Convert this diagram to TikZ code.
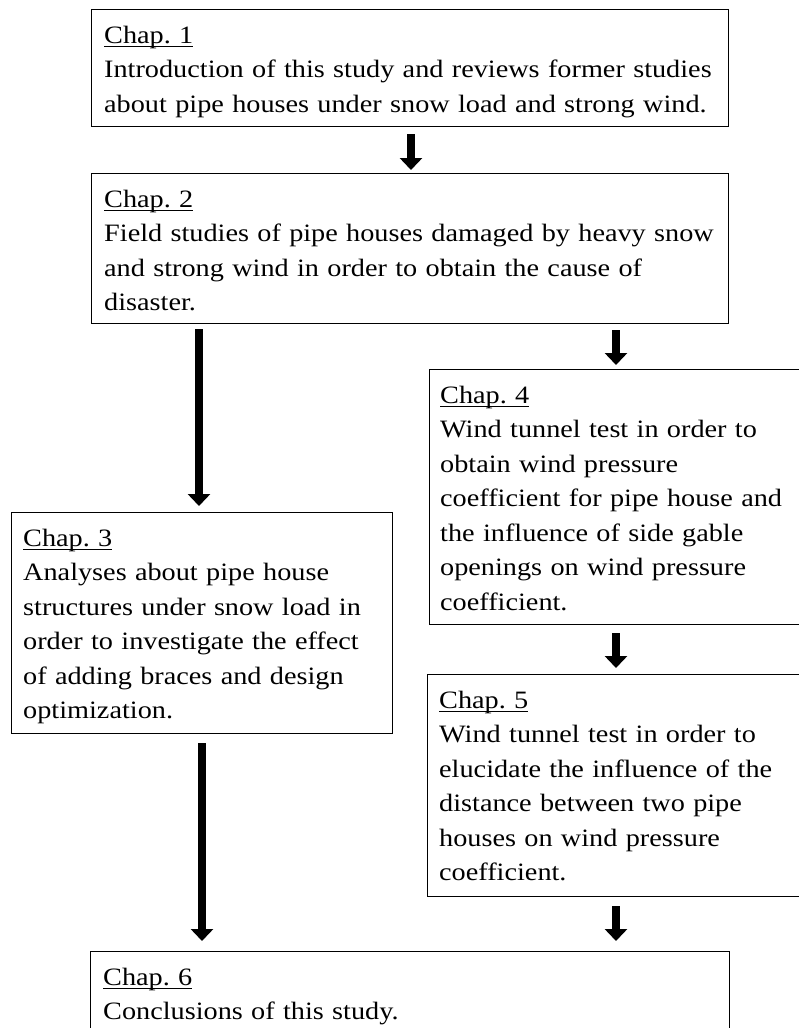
\documentclass[tikz,border=0pt]{standalone}
\usepackage{fontspec}
\setmainfont{Liberation Serif}[FakeStretch=1.13]
\usetikzlibrary{arrows.meta}
\newcommand\chapul[1]{\setbox0=\hbox{#1}\rlap{\rule[-4.4pt]{\wd0}{1.3pt}}\box0}
\begin{document}
\begin{tikzpicture}[x=1pt,y=-1pt,
  box/.style={draw=black, line width=1.2pt, rectangle, inner sep=0pt, anchor=north west},
  txt/.style={anchor=base west, inner sep=0pt, text width=700pt, align=left,
    font=\fontsize{25}{34.5}\selectfont\frenchspacing},
  bigarrow/.style={line width=8pt, -{Triangle[width=22pt,length=12pt]}}]
\useasboundingbox (0,0) rectangle (799,1028);
\clip (0,0) rectangle (799,1028);
% boxes
\node[box, minimum width=637pt, minimum height=117pt] (b1) at (91,9) {};
\node[box, minimum width=637pt, minimum height=150pt] (b2) at (91,173) {};
\node[box, minimum width=381pt, minimum height=221pt] (b3) at (11,512) {};
\node[box, minimum width=400pt, minimum height=255pt] (b4) at (429,369) {};
\node[box, minimum width=400pt, minimum height=222pt] (b5) at (427,674) {};
\node[box, minimum width=639pt, minimum height=120pt] (b6) at (90,951) {};
% texts
\node[txt] (t1) at ([xshift=13pt,yshift=-34pt]b1.north west)
  {\chapul{Chap. 1}\\Introduction of this study and reviews former studies\\about pipe houses under snow load and strong wind.};
\node[txt] (t2) at ([xshift=13pt,yshift=-34pt]b2.north west)
  {\chapul{Chap. 2}\\Field studies of pipe houses damaged by heavy snow\\and strong wind in order to obtain the cause of\\disaster.};
\node[txt] (t3) at ([xshift=12pt,yshift=-34pt]b3.north west)
  {\chapul{Chap. 3}\\Analyses about pipe house\\structures under snow load in\\order to investigate the effect\\of adding braces and design\\optimization.};
\node[txt] (t4) at ([xshift=11pt,yshift=-34pt]b4.north west)
  {\chapul{Chap. 4}\\Wind tunnel test in order to\\obtain wind pressure\\coefficient for pipe house and\\the influence of side gable\\openings on wind pressure\\coefficient.};
\node[txt] (t5) at ([xshift=12pt,yshift=-34pt]b5.north west)
  {\chapul{Chap. 5}\\Wind tunnel test in order to\\elucidate the influence of the\\distance between two pipe\\houses on wind pressure\\coefficient.};
\node[txt] (t6) at ([xshift=13pt,yshift=-34pt]b6.north west)
  {\chapul{Chap. 6}\\Conclusions of this study.};
% arrow columns
\coordinate (cA) at (411,0);
\coordinate (cL) at (199,0);
\coordinate (cL2) at (202,0);
\coordinate (cR) at (616,0);
% arrows
\draw[bigarrow, shorten <=7pt, shorten >=3pt] (b1.south -| cA) -- (b2.north -| cA);
\draw[bigarrow, shorten <=5pt, shorten >=6pt] (b2.south -| cL) -- (b3.north -| cL);
\draw[bigarrow, shorten <=6pt, shorten >=4pt] (b2.south -| cR) -- (b4.north -| cR);
\draw[bigarrow, shorten <=8pt, shorten >=6pt] (b4.south -| cR) -- (b5.north -| cR);
\draw[bigarrow, shorten <=9pt, shorten >=10pt] (b3.south -| cL2) -- (b6.north -| cL2);
\draw[bigarrow, shorten <=9pt, shorten >=10pt] (b5.south -| cR) -- (b6.north -| cR);
\end{tikzpicture}
\end{document}
